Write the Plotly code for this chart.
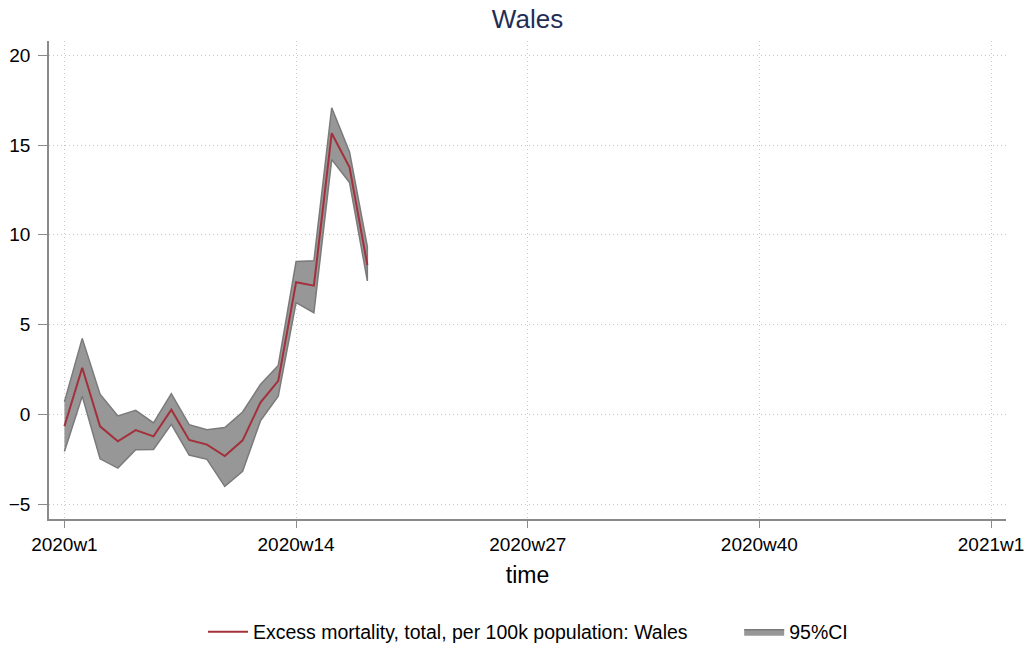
import plotly.graph_objects as go

weeks = list(range(1, 19))
excess = [-0.67, 2.59, -0.67, -1.51, -0.88, -1.23, 0.26, -1.43, -1.69, -2.33,
          -1.45, 0.65, 1.86, 7.36, 7.17, 15.66, 13.76, 8.32]
upper = [0.69, 4.23, 1.12, -0.09, 0.22, -0.48, 1.15, -0.58, -0.86, -0.74,
         0.13, 1.66, 2.72, 8.51, 8.55, 17.08, 14.62, 9.35]
lower = [-2.07, 1.01, -2.48, -3.0, -1.97, -1.96, -0.56, -2.27, -2.51, -4.02,
         -3.18, -0.37, 1.01, 6.22, 5.66, 14.19, 12.92, 7.43]

tick_vals = [1, 14, 27, 40, 53]
tick_text = ["2020w1", "2020w14", "2020w27", "2020w40", "2021w1"]
y_ticks = [-5, 0, 5, 10, 15, 20]

FONT = "Liberation Sans, Arial, Helvetica, sans-serif"
AXIS = "#8a8a8a"
GRID = "#c8c8c8"

fig = go.Figure()
fig.add_trace(go.Scatter(
    x=weeks + weeks[::-1], y=upper + lower[::-1],
    fill="toself", fillcolor="#979797",
    line=dict(color="#7a7a7a", width=1.5),
    mode="lines", name="95%CI", legend="legend2", hoverinfo="skip"))
fig.add_trace(go.Scatter(
    x=weeks, y=excess, mode="lines",
    line=dict(color="#a3303a", width=2),
    name="Excess mortality, total, per 100k population: Wales", legend="legend"))

leg_common = dict(orientation="h", yanchor="middle", xanchor="left", y=-0.2363,
                  font=dict(size=19.5), itemwidth=40, bgcolor="rgba(0,0,0,0)")

fig.update_layout(
    width=1033, height=651,
    paper_bgcolor="white", plot_bgcolor="white",
    margin=dict(l=49.3, r=27.3, t=40.7, b=132, autoexpand=False),
    font=dict(family=FONT, size=19, color="black"),
    title=dict(text="Wales", x=0.5, xanchor="center", xref="paper",
               y=1 - 19 / 651, yanchor="middle", yref="container",
               font=dict(size=26, color="#1f2d56")),
    showlegend=True,
    legend=dict(x=0.1609, **leg_common),
    legend2=dict(x=0.7212, **leg_common),
)
fig.update_xaxes(
    range=[0.135, 53.84], tickvals=tick_vals, ticktext=tick_text,
    showgrid=True, gridcolor=GRID, griddash="1px,3px", gridwidth=1,
    showline=True, linecolor=AXIS, linewidth=1.5,
    ticks="outside", ticklen=7, tickcolor=AXIS, tickwidth=1.2,
    zeroline=False, tickfont=dict(size=19), automargin=False,
    title=dict(text="time", font=dict(size=23), standoff=13))
fig.update_yaxes(
    range=[-5.835, 20.8], tickvals=y_ticks,
    showgrid=True, gridcolor=GRID, griddash="1px,3px", gridwidth=1,
    showline=True, linecolor=AXIS, linewidth=1.5,
    ticks="outside", ticklen=9, tickcolor=AXIS, tickwidth=1.2,
    ticklabelstandoff=4,
    zeroline=False, tickfont=dict(size=19), automargin=False)

fig.write_html("out.html",
               config={"displayModeBar": False},
               post_script="document.body.style.margin='0';document.body.style.overflow='hidden';")
